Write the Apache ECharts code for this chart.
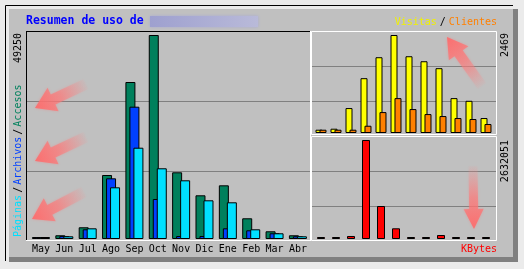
<!DOCTYPE html>
<html><head><meta charset="utf-8">
<script src="https://cdn.jsdelivr.net/npm/echarts/dist/echarts.min.js"></script>
<style>html,body{margin:0;padding:0;background:#ebebeb;}#c{width:524px;height:269px;}</style>
</head><body><div id="c"></div>
<script>
// ---- data ----
const months = ['May','Jun','Jul','Ago','Sep','Oct','Nov','Dic','Ene','Feb','Mar','Abr'];
const accesos  = [0, 900, 2830, 15450, 37900, 49250, 16100, 10550, 12960, 5000, 1860, 900];
const archivos = [0, 700, 2340, 14650, 31940, 9660, 720, 720, 2580, 2100, 1380, 650];
const paginas  = [0, 650, 2580, 12480, 22040, 17070, 14170, 9340, 8860, 2340, 1380, 650];
const visitas  = [83, 108, 628, 1381, 1909, 2469, 1934, 1808, 1633, 879, 811, 377];
const clientes = [83, 83, 83, 183, 527, 879, 603, 477, 427, 377, 352, 226];
const kbytes   = [0, 0, 80000, 2632051, 877350, 284500, 0, 0, 106000, 0, 0, 0];
const maxHits = 49250, maxVisits = 2469, maxKB = 2632051;

const FONT = 'DejaVu Sans Mono';
const COL = {acc:'#00805c', arc:'#0040ff', pag:'#00e0ff', vis:'#ffff00', cli:'#ff8000', kb:'#ff0000'};

function arrow(tx,ty,hx,hy,sw,hw,hl){
  const dx=hx-tx, dy=hy-ty, L=Math.hypot(dx,dy), ux=dx/L, uy=dy/L, nx=-uy, ny=ux;
  const bx=hx-ux*hl, by=hy-uy*hl;
  const pts=[[tx+nx*sw/2,ty+ny*sw/2],[bx+nx*sw/2,by+ny*sw/2],[bx+nx*hw/2,by+ny*hw/2],[hx,hy],
             [bx-nx*hw/2,by-ny*hw/2],[bx-nx*sw/2,by-ny*sw/2],[tx-nx*sw/2,ty-ny*sw/2]];
  return {type:'polygon', z:100, shape:{points:pts},
    style:{fill:new echarts.graphic.LinearGradient(tx,ty,hx,hy,
      [{offset:0,color:'rgba(255,140,140,0.05)'},{offset:0.5,color:'rgba(255,120,120,0.6)'},{offset:1,color:'rgba(255,105,105,0.9)'}],true),
      shadowBlur:3, shadowColor:'rgba(255,110,110,0.5)'}};
}
function line(x1,y1,x2,y2,c,z){return {type:'line', z:z||1, shape:{x1,y1,x2,y2}, style:{stroke:c, lineWidth:1}};}
function rect(x,y,w,h,fill,z){return {type:'rect', z:z||0, shape:{x,y,width:w,height:h}, style:{fill}};}
function vtext(x,y,align,text,rich){
  return {type:'text', z:5, x, y, rotation:Math.PI/2,
    style:{text, rich, fontFamily:FONT, fontSize:10, fill:'#000', textAlign:align, textVerticalAlign:'middle', align, verticalAlign:'middle'}};
}

const graphics = [
  // frame
  rect(9,9,509,253,'#808080',0),
  rect(9,9,504,248,'#c0c0c0',0),
  line(5.5,5.5,513,5.5,'#000',1),
  line(5.5,5.5,5.5,261,'#000',1),
  // grid lines
  line(27,101.5,310,101.5,'#808080',1),
  line(27,171.5,310,171.5,'#808080',1),
  line(312,66.5,496,66.5,'#808080',1),
  line(312,101.5,496,101.5,'#808080',1),
  line(312,171.5,496,171.5,'#808080',1),
  line(312,206.5,496,206.5,'#808080',1),
  // plot borders
  line(26,31.5,311,31.5,'#000',3),
  line(26.5,31,26.5,241,'#000',3),
  line(26,240.5,311,240.5,'#fff',3),
  line(310.5,31,310.5,241,'#fff',3),
  {type:'rect', z:3, shape:{x:311.5,y:31.5,width:185,height:103}, style:{fill:null, stroke:'#fff', lineWidth:1}},
  {type:'rect', z:3, shape:{x:311.5,y:136.5,width:185,height:104}, style:{fill:null, stroke:'#fff', lineWidth:1}},
  // title
  {type:'text', z:5, x:26, y:21.5, style:{text:'Resumen de uso de ', fontFamily:FONT, fontSize:11.5, fontWeight:'bold', fill:'#0000ff', textAlign:'left', textVerticalAlign:'middle', align:'left', verticalAlign:'middle'}},
  {type:'rect', z:5, shape:{x:150,y:16,width:108,height:11}, style:{
    fill:new echarts.graphic.LinearGradient(0,0,1,0,[{offset:0,color:'#9ea0cf'},{offset:1,color:'#b9bad9'}]),
    shadowBlur:3, shadowColor:'#a8aad3'}},
  {type:'text', z:5, x:497, y:22.5, style:{
    text:'{v|Visitas}{s|/}{c|Clientes}', fontFamily:FONT, fontSize:10, textAlign:'right', textVerticalAlign:'middle', align:'right', verticalAlign:'middle',
    rich:{v:{fill:'#f0f000', fontFamily:FONT, fontSize:10}, s:{fill:'#000', fontFamily:FONT, fontSize:10, padding:[0,3,0,3]}, c:{fill:COL.cli, fontFamily:FONT, fontSize:10}}}},
  {type:'text', z:5, x:497, y:249.5, style:{text:'KBytes', fontFamily:FONT, fontSize:10, fill:COL.kb, textAlign:'right', textVerticalAlign:'middle', align:'right', verticalAlign:'middle'}},
  vtext(18,33,'right',String(maxHits)),
  vtext(505,33,'right',String(maxVisits)),
  vtext(505,140,'right',String(maxKB)),
  vtext(18,237,'left','{p|Páginas}{s|/}{a|Archivos}{s|/}{c|Accesos}',
    {p:{fill:COL.pag,fontFamily:FONT,fontSize:10}, a:{fill:COL.arc,fontFamily:FONT,fontSize:10}, c:{fill:COL.acc,fontFamily:FONT,fontSize:10},
     s:{fill:'#000',fontFamily:FONT,fontSize:10,padding:[0,2,0,2]}}),
  // arrows (annotations)
  arrow(86,84,35,108,11,26,20),
  arrow(86,137,35,161,11,26,20),
  arrow(84,192,32,219,11,26,20),
  arrow(482,86,447,37,10,24,20),
  arrow(473,166,474,229,9,20,20)
];

function bar(name,data,color,xi,w,gap){
  return {type:'bar', name, data, xAxisIndex:xi, yAxisIndex:xi, barWidth:w, barGap:gap, barMinHeight:2,
    itemStyle:{color, borderColor:'#000', borderWidth:1}, z:2};
}
const chart = echarts.init(document.getElementById('c'), null, {renderer:'canvas'});
chart.setOption({
  animation:false,
  grid:[{left:29.3, top:35, width:280.3, height:204},
        {left:313.5, top:35, width:180, height:98},
        {left:313.5, top:140, width:180, height:99}],
  xAxis:[{type:'category', gridIndex:0, data:months, axisLine:{show:false}, axisTick:{show:false},
          axisLabel:{interval:0, fontFamily:FONT, fontSize:10, color:'#000', margin:5}},
         {type:'category', gridIndex:1, data:months, show:false},
         {type:'category', gridIndex:2, data:months, show:false}],
  yAxis:[{type:'value', gridIndex:0, min:0, max:maxHits, show:false},
         {type:'value', gridIndex:1, min:0, max:maxVisits, show:false},
         {type:'value', gridIndex:2, min:0, max:maxKB, show:false}],
  series:[
    bar('Accesos',accesos,COL.acc,0,10,'-60%'),
    bar('Archivos',archivos,COL.arc,0,10,'-60%'),
    bar('Páginas',paginas,COL.pag,0,10,'-60%'),
    bar('Visitas',visitas,COL.vis,1,7,'-42.86%'),
    bar('Clientes',clientes,COL.cli,1,7,'-42.86%'),
    bar('KBytes',kbytes,COL.kb,2,8,'0%')
  ],
  graphic:{elements:graphics}
});
</script></body></html>
